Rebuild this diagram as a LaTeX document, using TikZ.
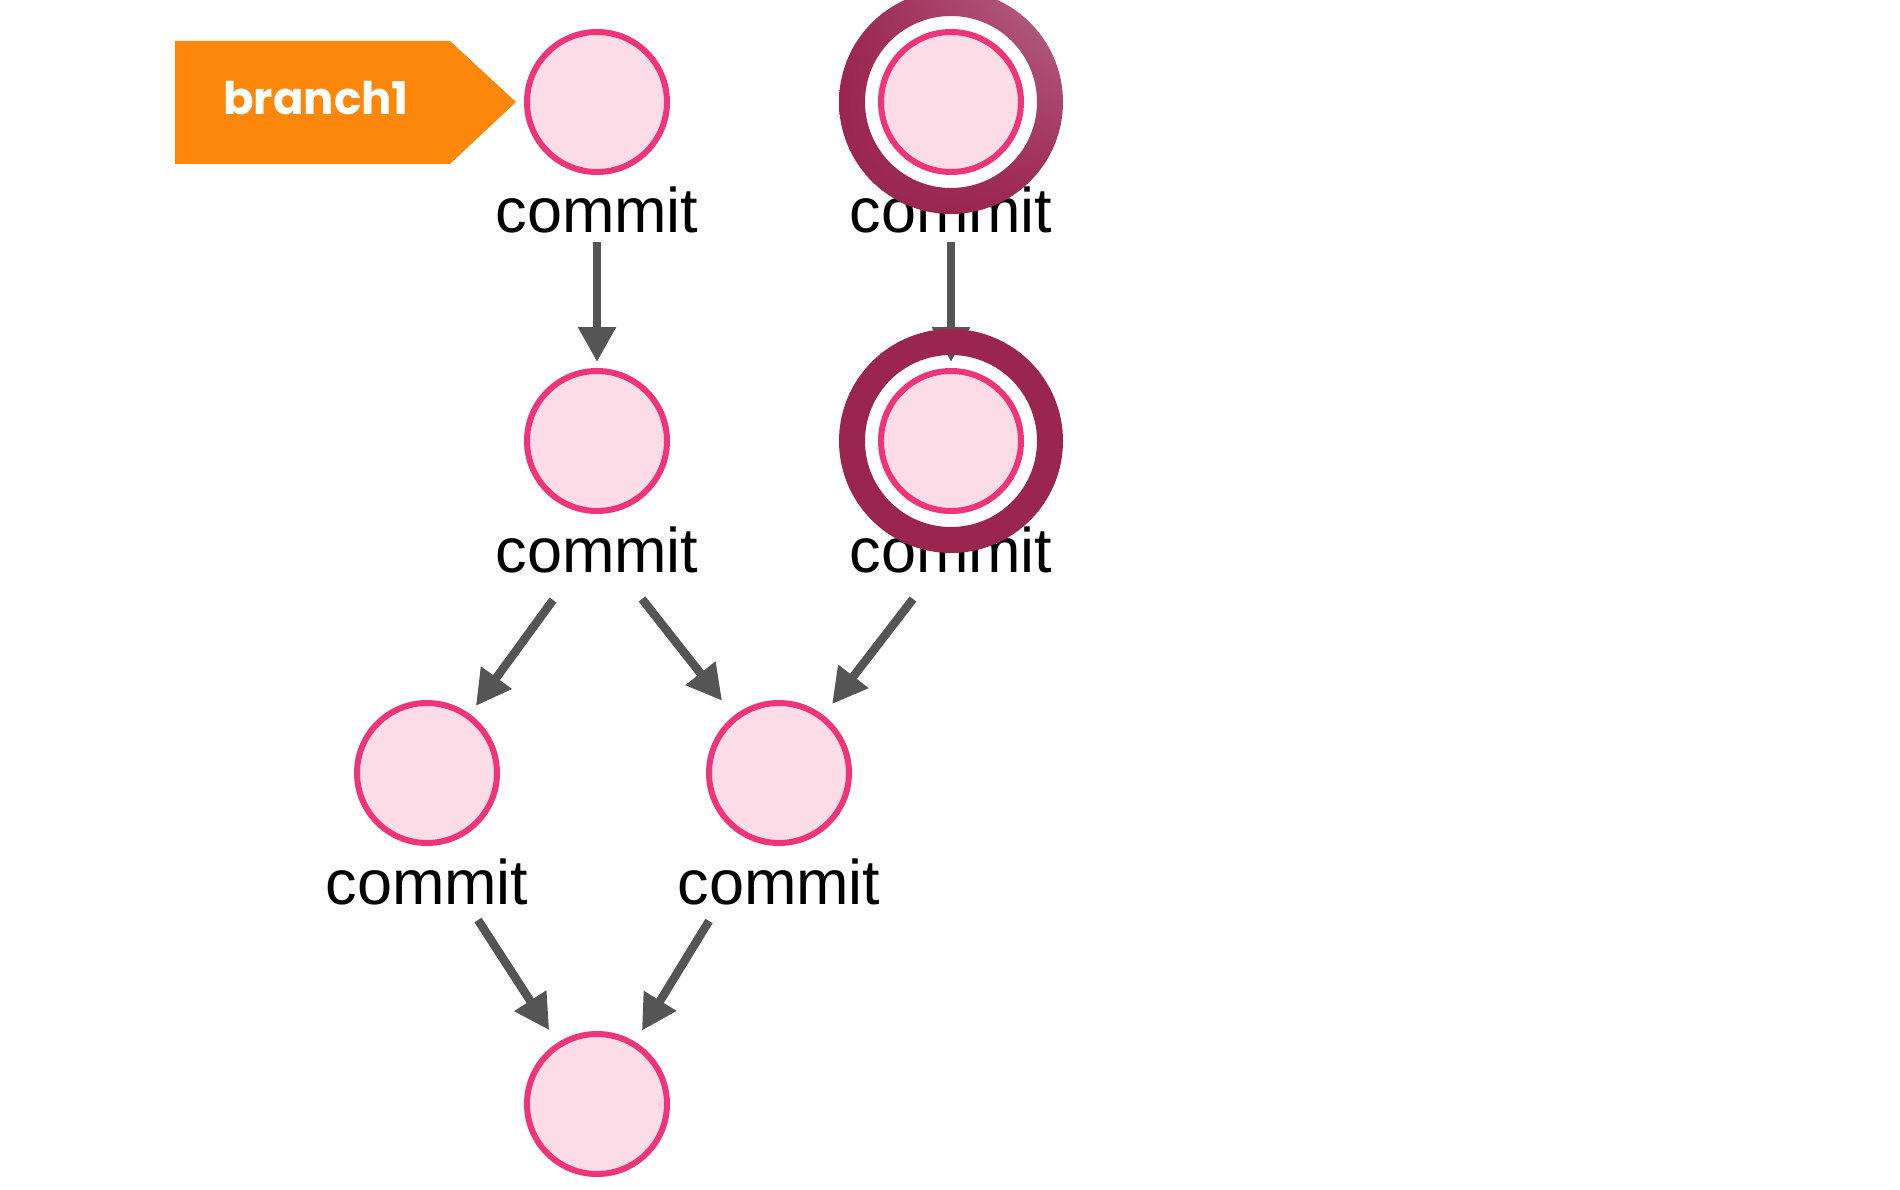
\documentclass[tikz,border=0pt]{standalone}
\usepackage{fontspec}
\setmainfont{Liberation Sans}
\newfontfamily\popfont{Poppins}
\usetikzlibrary{arrows.meta,calc,shadings}
\definecolor{pinkfill}{HTML}{FCDDE7}
\definecolor{pinkline}{HTML}{EF3479}
\definecolor{ringc}{HTML}{9A2650}
\definecolor{ringlight}{HTML}{B8668A}
\definecolor{arrowc}{HTML}{555555}
\definecolor{tagc}{HTML}{FD870A}
\begin{document}
\begin{tikzpicture}[x=1pt,y=-1pt,
  commitc/.style={circle, draw=pinkline, fill=pinkfill, line width=6pt, minimum size=140pt, inner sep=0pt},
  lbl/.style={font=\fontsize{63}{76}\selectfont, text=black, inner sep=0pt, anchor=base},
  arr/.style={draw=arrowc, line width=8.5pt, -{Triangle[length=35pt,width=36pt]}},
  tagtext/.style={font=\popfont\bfseries\fontsize{45}{54}\selectfont, text=white, inner sep=0pt, anchor=base}
]
\useasboundingbox (0,0) rectangle (1900,1190);
\clip (0,0) rectangle (1900,1190);

% branch tag
\fill[tagc] (175,41) -- (450,41) -- (516,102) -- (450,164) -- (175,164) -- cycle;
\node[tagtext] (tag) at (316,115) {branch1};

% commits
\node[commitc] (a1) at (597,102) {};
\node[commitc] (a2) at (597,441) {};
\node[commitc] (b1) at (951,102) {};
\node[commitc] (b2) at (951,441) {};
\node[commitc] (c3) at (427,773) {};
\node[commitc] (c4) at (779,773) {};
\node[commitc] (c5) at (597,1104) {};

% labels
\node[lbl] (la1) at ($(a1)+(0,131)$) {commit};
\node[lbl] (la2) at ($(a2)+(0,131)$) {commit};
\node[lbl] (lb1) at ($(b1)+(0,131)$) {commit};
\node[lbl] (lb2) at ($(b2)+(0,131)$) {commit};
\node[lbl] (lc3) at ($(c3)+(0,131)$) {commit};
\node[lbl] (lc4) at ($(c4)+(0,131)$) {commit};

% arrow start points
\coordinate (sa1) at (597,242);
\coordinate (sb1) at (951,242);
\coordinate (sa2l) at (553,600);
\coordinate (sa2r) at (642,599);
\coordinate (sb2) at (913,599);
\coordinate (sc3) at (478,920);
\coordinate (sc4) at (709,921);

\draw[arr, shorten >=6pt] (sa1) -- (a2);
\draw[arr, shorten >=6pt] (sb1) -- (b2);
\draw[arr, shorten >=10pt] (sa2l) -- (c3);
\draw[arr, shorten >=19pt] (sa2r) -- (c4);
\draw[arr, shorten >=14pt] (sb2) -- (c4);
\draw[arr, shorten >=15pt] (sc3) -- (c5);
\draw[arr, shorten >=13pt] (sc4) -- (c5);

% highlight rings
\shade[even odd rule, upper right=ringlight, upper left=ringc, lower left=ringc, lower right=ringc]
  (b1) circle[radius=112] circle[radius=86];
\fill[ringc, even odd rule] (b2) circle[radius=112] circle[radius=86];
\end{tikzpicture}
\end{document}
